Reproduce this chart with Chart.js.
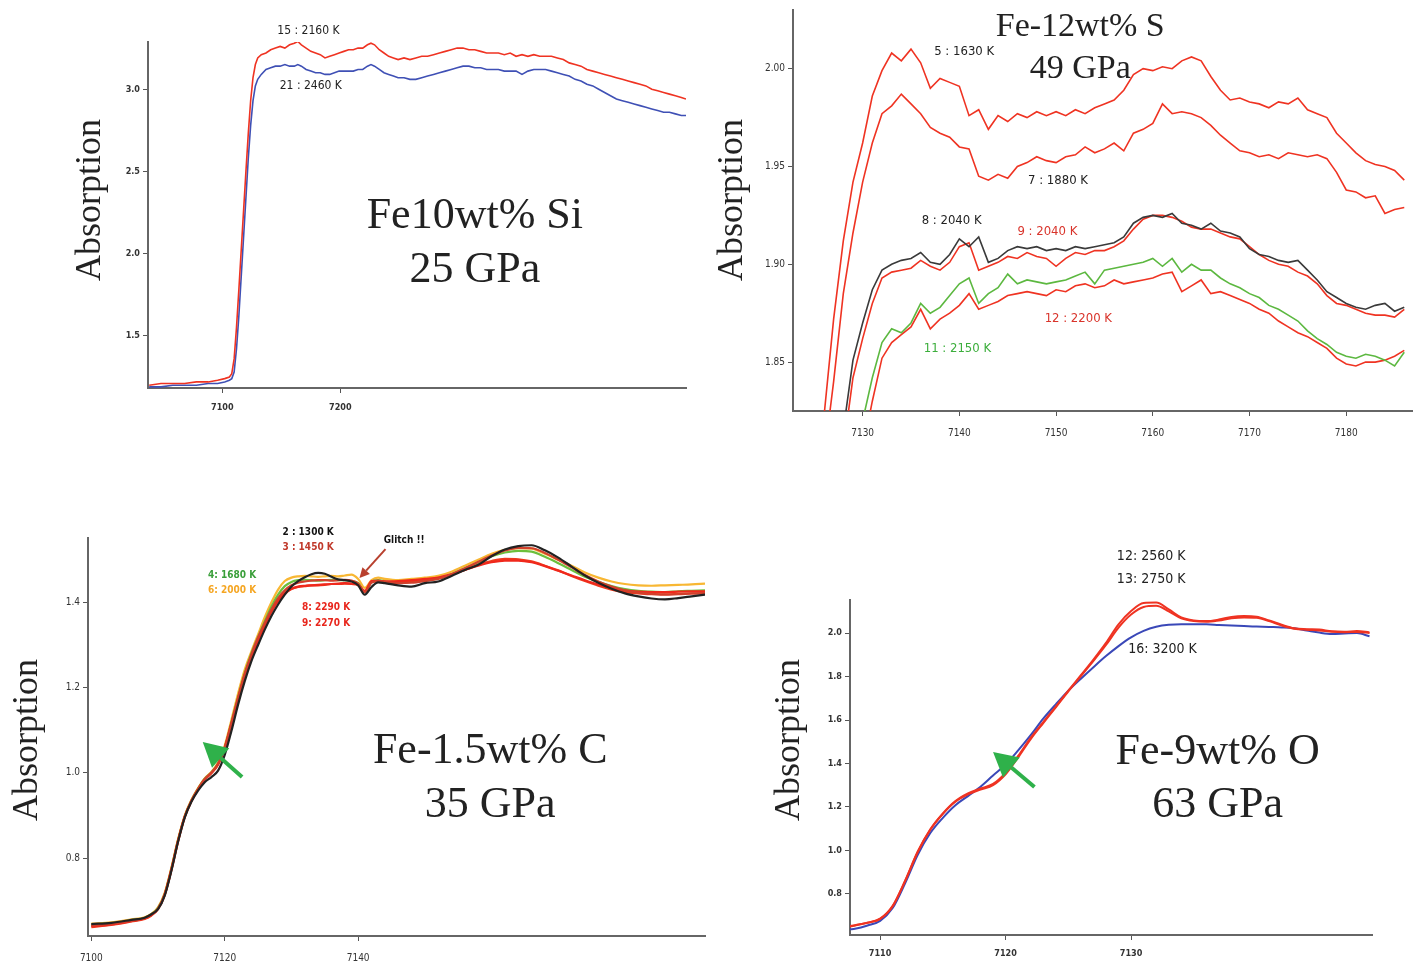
<!DOCTYPE html>
<html>
<head>
<meta charset="utf-8">
<script src="https://cdn.jsdelivr.net/npm/chart.js@4.4.1/dist/chart.umd.min.js"></script>
<style>
html, body { margin: 0; padding: 0; background: #fff; }
body { width: 1419px; height: 965px; position: relative; overflow: hidden; }
.panel { position: absolute; }
</style>
</head>
<body>
<div class="panel" style="left:60px;top:10px;width:640px;height:408px"><canvas id="c1"></canvas></div>
<div class="panel" style="left:715px;top:0px;width:704px;height:446px"><canvas id="c2"></canvas></div>
<div class="panel" style="left:0px;top:515px;width:715px;height:450px"><canvas id="c3"></canvas></div>
<div class="panel" style="left:760px;top:540px;width:659px;height:425px"><canvas id="c4"></canvas></div>
<script>
// ---- Panel 1: Fe10wt% Si, 25 GPa ----
const p1XTicks = [7100, 7200];
const p1YTicks = [1.5, 2.0, 2.5, 3.0];
const p1Energy = [
  7038, 7048, 7058, 7068, 7078, 7088, 7096, 7102, 7106, 7108,
  7110, 7112, 7114, 7116, 7118, 7120, 7122, 7124, 7126, 7128,
  7130, 7133, 7137, 7141, 7145, 7149, 7153, 7157, 7161, 7164,
  7167, 7171, 7175, 7179, 7183, 7187, 7191, 7195, 7199, 7203,
  7207, 7211, 7215, 7219, 7223, 7226, 7229, 7233, 7237, 7241,
  7245, 7249, 7254, 7259, 7264, 7269, 7274, 7279, 7284, 7289,
  7294, 7299, 7304, 7309, 7314, 7319, 7324, 7329, 7334, 7339,
  7344, 7349, 7354, 7359, 7364, 7369, 7374, 7379, 7384, 7389,
  7394, 7399, 7404, 7409, 7414, 7419, 7424, 7429, 7434, 7439,
  7444, 7449, 7454, 7459, 7464, 7469, 7474, 7479, 7484, 7489,
  7493];
const p1Run15 = [
  1.20, 1.21, 1.21, 1.21, 1.22, 1.22, 1.23, 1.24, 1.25, 1.27,
  1.36, 1.55, 1.78, 2.02, 2.26, 2.50, 2.73, 2.93, 3.07, 3.15,
  3.19, 3.21, 3.22, 3.24, 3.25, 3.26, 3.25, 3.27, 3.28, 3.29,
  3.27, 3.25, 3.23, 3.22, 3.21, 3.19, 3.20, 3.21, 3.22, 3.23,
  3.24, 3.24, 3.25, 3.25, 3.27, 3.28, 3.27, 3.24, 3.22, 3.20,
  3.19, 3.18, 3.19, 3.18, 3.19, 3.20, 3.20, 3.21, 3.22, 3.23,
  3.24, 3.25, 3.25, 3.24, 3.24, 3.23, 3.22, 3.22, 3.22, 3.21,
  3.22, 3.20, 3.21, 3.20, 3.21, 3.20, 3.20, 3.20, 3.19, 3.18,
  3.16, 3.15, 3.14, 3.12, 3.11, 3.10, 3.09, 3.08, 3.07, 3.06,
  3.05, 3.04, 3.03, 3.02, 3.00, 2.99, 2.98, 2.97, 2.96, 2.95,
  2.94];
const p1Run21 = [
  1.19, 1.19, 1.20, 1.20, 1.20, 1.21, 1.21, 1.22, 1.23, 1.24,
  1.28, 1.42, 1.62, 1.86, 2.10, 2.34, 2.58, 2.78, 2.93, 3.02,
  3.06, 3.09, 3.12, 3.13, 3.14, 3.14, 3.15, 3.14, 3.14, 3.15,
  3.14, 3.12, 3.11, 3.10, 3.10, 3.09, 3.09, 3.10, 3.11, 3.11,
  3.11, 3.11, 3.12, 3.12, 3.14, 3.15, 3.14, 3.12, 3.10, 3.09,
  3.08, 3.07, 3.07, 3.06, 3.06, 3.07, 3.08, 3.09, 3.10, 3.11,
  3.12, 3.13, 3.14, 3.14, 3.13, 3.13, 3.12, 3.12, 3.12, 3.11,
  3.11, 3.11, 3.09, 3.11, 3.12, 3.12, 3.12, 3.11, 3.10, 3.09,
  3.08, 3.06, 3.05, 3.03, 3.02, 3.00, 2.98, 2.96, 2.94, 2.93,
  2.92, 2.91, 2.90, 2.89, 2.88, 2.87, 2.86, 2.86, 2.85, 2.84,
  2.84];

// ---- Panel 2: Fe-12wt% S, 49 GPa ----
const p2XTicks = [7130, 7140, 7150, 7160, 7170, 7180];
const p2YTicks = [1.85, 1.90, 1.95, 2.00];
const p2Energy = [
  7126, 7127, 7128, 7129, 7130, 7131, 7132, 7133, 7134, 7135,
  7136, 7137, 7138, 7139, 7140, 7141, 7142, 7143, 7144, 7145,
  7146, 7147, 7148, 7149, 7150, 7151, 7152, 7153, 7154, 7155,
  7156, 7157, 7158, 7159, 7160, 7161, 7162, 7163, 7164, 7165,
  7166, 7167, 7168, 7169, 7170, 7171, 7172, 7173, 7174, 7175,
  7176, 7177, 7178, 7179, 7180, 7181, 7182, 7183, 7184, 7185,
  7186];
const p2Run5 = [
  1.822, 1.872, 1.912, 1.942, 1.962, 1.986, 1.999, 2.008, 2.004, 2.010,
  2.003, 1.990, 1.995, 1.993, 1.991, 1.976, 1.979, 1.969, 1.976, 1.973,
  1.977, 1.975, 1.978, 1.976, 1.978, 1.976, 1.979, 1.977, 1.980, 1.982,
  1.984, 1.989, 1.997, 2.000, 1.999, 2.001, 2.000, 2.004, 2.006, 2.004,
  1.996, 1.989, 1.984, 1.985, 1.983, 1.982, 1.980, 1.983, 1.982, 1.985,
  1.979, 1.977, 1.975, 1.967, 1.962, 1.957, 1.953, 1.951, 1.950, 1.948,
  1.943];
const p2Run7 = [
  1.800, 1.840, 1.885, 1.916, 1.942, 1.962, 1.977, 1.981, 1.987, 1.982,
  1.977, 1.970, 1.967, 1.965, 1.960, 1.959, 1.945, 1.943, 1.946, 1.944,
  1.950, 1.952, 1.955, 1.953, 1.952, 1.955, 1.956, 1.960, 1.957, 1.959,
  1.962, 1.958, 1.967, 1.969, 1.972, 1.982, 1.977, 1.978, 1.977, 1.975,
  1.971, 1.966, 1.962, 1.958, 1.957, 1.955, 1.956, 1.954, 1.957, 1.956,
  1.955, 1.956, 1.954, 1.947, 1.938, 1.937, 1.934, 1.935, 1.926, 1.928,
  1.929];
const p2Run8 = [
  1.780, 1.790, 1.815, 1.851, 1.870, 1.887, 1.897, 1.900, 1.902, 1.903,
  1.906, 1.901, 1.900, 1.905, 1.913, 1.909, 1.914, 1.901, 1.903, 1.907,
  1.909, 1.908, 1.909, 1.907, 1.908, 1.907, 1.909, 1.908, 1.909, 1.910,
  1.911, 1.914, 1.921, 1.924, 1.925, 1.924, 1.926, 1.921, 1.920, 1.918,
  1.921, 1.917, 1.916, 1.914, 1.908, 1.905, 1.904, 1.902, 1.901, 1.902,
  1.897, 1.892, 1.886, 1.883, 1.880, 1.878, 1.877, 1.879, 1.880, 1.876,
  1.878];
const p2Run9 = [
  1.780, 1.790, 1.805, 1.842, 1.862, 1.880, 1.893, 1.896, 1.897, 1.898,
  1.902, 1.899, 1.897, 1.901, 1.909, 1.911, 1.897, 1.899, 1.901, 1.904,
  1.903, 1.906, 1.904, 1.903, 1.899, 1.903, 1.906, 1.905, 1.907, 1.907,
  1.909, 1.912, 1.918, 1.923, 1.925, 1.925, 1.924, 1.922, 1.919, 1.918,
  1.918, 1.916, 1.914, 1.913, 1.909, 1.905, 1.902, 1.900, 1.899, 1.896,
  1.894, 1.890, 1.884, 1.880, 1.879, 1.877, 1.875, 1.874, 1.874, 1.873,
  1.877];
const p2Run11 = [
  1.780, 1.780, 1.790, 1.800, 1.820, 1.842, 1.860, 1.867, 1.865, 1.870,
  1.880, 1.875, 1.878, 1.884, 1.890, 1.893, 1.880, 1.885, 1.888, 1.895,
  1.890, 1.892, 1.891, 1.890, 1.891, 1.892, 1.894, 1.896, 1.890, 1.897,
  1.898, 1.899, 1.900, 1.901, 1.903, 1.899, 1.903, 1.896, 1.900, 1.897,
  1.897, 1.893, 1.890, 1.888, 1.885, 1.883, 1.879, 1.877, 1.874, 1.871,
  1.866, 1.862, 1.859, 1.855, 1.853, 1.852, 1.854, 1.853, 1.851, 1.848,
  1.855];
const p2Run12 = [
  1.780, 1.780, 1.780, 1.790, 1.805, 1.830, 1.852, 1.860, 1.864, 1.868,
  1.877, 1.867, 1.872, 1.875, 1.879, 1.885, 1.877, 1.879, 1.881, 1.884,
  1.885, 1.886, 1.885, 1.884, 1.887, 1.886, 1.889, 1.890, 1.888, 1.889,
  1.892, 1.890, 1.891, 1.892, 1.893, 1.895, 1.896, 1.886, 1.889, 1.892,
  1.885, 1.886, 1.884, 1.882, 1.880, 1.877, 1.875, 1.871, 1.868, 1.865,
  1.863, 1.860, 1.857, 1.852, 1.849, 1.848, 1.850, 1.850, 1.851, 1.853,
  1.856];

// ---- Panel 3: Fe-1.5wt% C, 35 GPa ----
const p3XTicks = [7100, 7120, 7140];
const p3YTicks = [0.8, 1.0, 1.2, 1.4];
const p3Energy = [
  7100, 7103, 7106, 7108, 7109, 7110, 7111, 7112, 7113, 7114,
  7115, 7116, 7117, 7118, 7119, 7120, 7121, 7122, 7123, 7124,
  7125, 7126, 7127, 7128, 7129, 7130, 7131, 7132, 7133, 7134,
  7135, 7136, 7137, 7138, 7139, 7140, 7141, 7142, 7143, 7144,
  7146, 7148, 7150, 7152, 7154, 7156, 7158, 7160, 7162, 7164,
  7166, 7168, 7170, 7172, 7174, 7176, 7178, 7180, 7182, 7184,
  7186, 7188, 7190, 7192];
const p3Run2 = [
  0.645, 0.648, 0.655, 0.660, 0.668, 0.680, 0.712, 0.770, 0.838, 0.895,
  0.932, 0.958, 0.978, 0.990, 1.005, 1.042, 1.098, 1.160, 1.215, 1.262,
  1.300, 1.336, 1.368, 1.395, 1.418, 1.437, 1.450, 1.459, 1.466, 1.469,
  1.467, 1.460, 1.454, 1.452, 1.449, 1.440, 1.418, 1.436, 1.447, 1.445,
  1.440, 1.437, 1.445, 1.449, 1.462, 1.476, 1.488, 1.508, 1.524, 1.532,
  1.534, 1.522, 1.505, 1.484, 1.463, 1.446, 1.432, 1.421, 1.414, 1.409,
  1.407, 1.410, 1.414, 1.418];
const p3Run3 = [
  0.642, 0.646, 0.653, 0.659, 0.667, 0.681, 0.714, 0.772, 0.840, 0.897,
  0.934, 0.962, 0.985, 1.000, 1.020, 1.058, 1.115, 1.175, 1.230, 1.278,
  1.318, 1.352, 1.384, 1.410, 1.428, 1.440, 1.446, 1.449, 1.451, 1.452,
  1.452, 1.451, 1.452, 1.453, 1.451, 1.444, 1.424, 1.446, 1.450, 1.448,
  1.445, 1.446, 1.450, 1.455, 1.466, 1.480, 1.495, 1.510, 1.522, 1.528,
  1.527, 1.516, 1.500, 1.482, 1.464, 1.449, 1.437, 1.428, 1.423, 1.420,
  1.418, 1.419, 1.421, 1.422];
const p3Run4 = [
  0.644, 0.647, 0.654, 0.660, 0.668, 0.683, 0.716, 0.775, 0.842, 0.898,
  0.935, 0.963, 0.986, 1.001, 1.022, 1.060, 1.118, 1.178, 1.234, 1.280,
  1.318, 1.355, 1.390, 1.418, 1.438, 1.448, 1.452, 1.453, 1.452, 1.451,
  1.452, 1.453, 1.452, 1.452, 1.450, 1.445, 1.425, 1.448, 1.452, 1.449,
  1.446, 1.448, 1.452, 1.456, 1.466, 1.480, 1.494, 1.508, 1.517, 1.521,
  1.519, 1.507, 1.492, 1.476, 1.460, 1.448, 1.438, 1.431, 1.427, 1.425,
  1.424, 1.426, 1.427, 1.428];
const p3Run6 = [
  0.646, 0.649, 0.656, 0.661, 0.669, 0.684, 0.718, 0.777, 0.844, 0.899,
  0.936, 0.964, 0.987, 1.002, 1.024, 1.064, 1.124, 1.186, 1.242, 1.285,
  1.325, 1.365, 1.400, 1.430, 1.450, 1.458, 1.461, 1.462, 1.461, 1.460,
  1.461, 1.462, 1.461, 1.463, 1.465, 1.455, 1.434, 1.452, 1.458, 1.455,
  1.452, 1.455, 1.458, 1.462, 1.472, 1.486, 1.500, 1.514, 1.523, 1.527,
  1.526, 1.514, 1.500, 1.486, 1.470, 1.458, 1.449, 1.443, 1.440, 1.439,
  1.440, 1.441, 1.442, 1.444];
const p3Run8 = [
  0.640, 0.644, 0.652, 0.658, 0.666, 0.681, 0.715, 0.774, 0.841, 0.897,
  0.934, 0.962, 0.985, 1.000, 1.021, 1.060, 1.117, 1.176, 1.232, 1.275,
  1.312, 1.348, 1.380, 1.405, 1.422, 1.432, 1.437, 1.439, 1.440, 1.441,
  1.442, 1.443, 1.444, 1.445, 1.444, 1.442, 1.427, 1.450, 1.451, 1.449,
  1.450, 1.452, 1.455, 1.458, 1.466, 1.476, 1.486, 1.494, 1.498, 1.498,
  1.494, 1.485, 1.474, 1.463, 1.452, 1.442, 1.434, 1.428, 1.425, 1.424,
  1.424, 1.425, 1.426, 1.426];
const p3Run9 = [
  0.638, 0.643, 0.651, 0.657, 0.665, 0.680, 0.713, 0.772, 0.839, 0.896,
  0.933, 0.961, 0.984, 0.999, 1.019, 1.057, 1.113, 1.172, 1.228, 1.272,
  1.310, 1.346, 1.378, 1.403, 1.420, 1.431, 1.436, 1.438, 1.440, 1.440,
  1.441, 1.443, 1.443, 1.444, 1.443, 1.440, 1.425, 1.447, 1.449, 1.448,
  1.447, 1.450, 1.453, 1.457, 1.465, 1.476, 1.488, 1.497, 1.502, 1.501,
  1.496, 1.486, 1.475, 1.462, 1.450, 1.439, 1.430, 1.424, 1.421, 1.419,
  1.419, 1.420, 1.421, 1.421];

// ---- Panel 4: Fe-9wt% O, 63 GPa ----
const p4XTicks = [7110, 7120, 7130];
const p4YTicks = [0.8, 1.0, 1.2, 1.4, 1.6, 1.8, 2.0];
const p4Energy = [
  7107.6, 7108, 7109, 7110, 7111, 7112, 7113, 7114, 7115, 7116,
  7117, 7118, 7119, 7120, 7121, 7122, 7123, 7124, 7125, 7126,
  7127, 7128, 7129, 7130, 7131, 7132, 7133, 7134, 7135, 7136,
  7137, 7138, 7139, 7140, 7141, 7142, 7143, 7144, 7145, 7146,
  7147, 7148, 7149];
const p4Run12 = [
  0.652, 0.656, 0.668, 0.686, 0.745, 0.862, 0.995, 1.097, 1.170, 1.227,
  1.262, 1.285, 1.306, 1.358, 1.435, 1.518, 1.590, 1.662, 1.735, 1.806,
  1.878, 1.955, 2.040, 2.101, 2.138, 2.140, 2.109, 2.072, 2.058, 2.055,
  2.062, 2.074, 2.078, 2.075, 2.058, 2.038, 2.022, 2.018, 2.016, 2.008,
  2.006, 2.009, 2.003];
const p4Run13 = [
  0.650, 0.655, 0.667, 0.685, 0.743, 0.860, 0.993, 1.095, 1.168, 1.224,
  1.258, 1.280, 1.300, 1.350, 1.428, 1.512, 1.586, 1.658, 1.732, 1.802,
  1.872, 1.945, 2.025, 2.085, 2.120, 2.125, 2.100, 2.068, 2.055, 2.052,
  2.058, 2.068, 2.072, 2.070, 2.055, 2.035, 2.020, 2.015, 2.012, 2.006,
  2.004, 2.005, 2.000];
const p4Run16 = [
  0.637, 0.640, 0.655, 0.676, 0.735, 0.850, 0.980, 1.080, 1.150, 1.208,
  1.250, 1.293, 1.345, 1.395, 1.460, 1.530, 1.606, 1.672, 1.735, 1.790,
  1.843, 1.894, 1.940, 1.980, 2.010, 2.029, 2.038, 2.040, 2.040, 2.040,
  2.037, 2.035, 2.032, 2.030, 2.028, 2.026, 2.022, 2.012, 2.002, 1.996,
  1.998, 2.000, 1.985];

// ---- styling ----
const SERIF = '"Liberation Serif", "Times New Roman", serif';
const NARROW = '"Liberation Sans Narrow", "Arial Narrow", "DejaVu Sans Condensed", sans-serif';
const RED = '#ef3322';

function series(xs, ys) {
    return xs.map((x, i) => ({ x: x, y: ys[i] }));
}

function line(xs, ys, color, width, smooth) {
    return {
        data: series(xs, ys),
        borderColor: color,
        borderWidth: width,
        pointRadius: 0,
        fill: false,
        tension: smooth ? 0.4 : 0,
        cubicInterpolationMode: smooth ? 'monotone' : 'default'
    };
}

// text + arrows drawn in data coordinates
const annotate = {
    id: 'annotate',
    afterDatasetsDraw(chart, args, opts) {
        const ctx = chart.ctx;
        const xs = chart.scales.x, ys = chart.scales.y;
        (opts.arrows || []).forEach(a => {
            const x1 = xs.getPixelForValue(a.from[0]), y1 = ys.getPixelForValue(a.from[1]);
            const x2 = xs.getPixelForValue(a.to[0]), y2 = ys.getPixelForValue(a.to[1]);
            const ang = Math.atan2(y2 - y1, x2 - x1);
            const bx = x2 - a.head * Math.cos(ang), by = y2 - a.head * Math.sin(ang);
            ctx.save();
            ctx.strokeStyle = a.color;
            ctx.fillStyle = a.color;
            ctx.lineWidth = a.width;
            ctx.beginPath();
            ctx.moveTo(x1, y1);
            ctx.lineTo(bx, by);
            ctx.stroke();
            ctx.beginPath();
            ctx.moveTo(x2, y2);
            ctx.lineTo(bx + a.spread * Math.sin(ang), by - a.spread * Math.cos(ang));
            ctx.lineTo(bx - a.spread * Math.sin(ang), by + a.spread * Math.cos(ang));
            ctx.closePath();
            ctx.fill();
            ctx.restore();
        });
        (opts.texts || []).forEach(t => {
            const px = xs.getPixelForValue(t.at[0]), py = ys.getPixelForValue(t.at[1]);
            ctx.save();
            ctx.font = t.font;
            ctx.fillStyle = t.color || '#222';
            ctx.textAlign = 'center';
            ctx.textBaseline = 'middle';
            ctx.translate(px, py);
            if (t.rotate) ctx.rotate(-Math.PI / 2);
            ctx.fillText(t.text, 0, 0);
            ctx.restore();
        });
    }
};

function makePanel(id, p) {
    const tickFont = p.tickFont;
    new Chart(document.getElementById(id), {
        type: 'line',
        data: { datasets: p.datasets },
        options: {
            responsive: true,
            maintainAspectRatio: false,
            animation: false,
            events: [],
            layout: { padding: { top: p.padTop, right: p.padRight, left: 0, bottom: 0 } },
            plugins: {
                legend: { display: false },
                tooltip: { enabled: false },
                annotate: { texts: p.texts, arrows: p.arrows || [] }
            },
            scales: {
                x: {
                    type: 'linear',
                    min: p.xMin, max: p.xMax,
                    afterBuildTicks: s => { s.ticks = p.xTicks.map(v => ({ value: v })); },
                    afterFit: s => { s.height = p.xHeight; },
                    grid: { drawOnChartArea: false, drawTicks: true, tickLength: 5, color: '#555' },
                    border: { display: true, color: '#666', width: 2 },
                    ticks: { font: tickFont, color: '#333', padding: p.xPad, maxRotation: 0, autoSkip: false,
                             callback: v => String(v) }
                },
                y: {
                    type: 'linear',
                    min: p.yMin, max: p.yMax,
                    afterBuildTicks: s => { s.ticks = p.yTicks.map(v => ({ value: v })); },
                    afterFit: s => { s.width = p.yWidth; },
                    grid: { drawOnChartArea: false, drawTicks: true, tickLength: 5, color: '#555' },
                    border: { display: true, color: '#666', width: 2 },
                    ticks: { font: tickFont, color: '#333', padding: 3, autoSkip: false,
                             callback: v => v.toFixed(p.yDigits) }
                }
            }
        },
        plugins: [annotate]
    });
}

makePanel('c1', {
    xMin: 7037, xMax: 7493, yMin: 1.183, yMax: 3.287,
    xTicks: p1XTicks, yTicks: p1YTicks, yDigits: 1,
    yWidth: 88, xHeight: 30, padTop: 32, padRight: 14, xPad: 9,
    tickFont: { family: NARROW, size: 9, weight: 'bold' },
    datasets: [
        line(p1Energy, p1Run15, RED, 1.6, false),
        line(p1Energy, p1Run21, '#3f50b5', 1.6, false)
    ],
    texts: [
        { text: '15 : 2160 K', at: [7173, 3.354], font: '12px ' + NARROW },
        { text: '21 : 2460 K', at: [7175, 3.019], font: '12px ' + NARROW },
        { text: 'Fe10wt% Si', at: [7314, 2.229], font: '44px ' + SERIF },
        { text: '25 GPa', at: [7314, 1.900], font: '44px ' + SERIF },
        { text: 'Absorption', at: [6988, 2.326], font: '36px ' + SERIF, rotate: true }
    ]
});

makePanel('c2', {
    xMin: 7122.8, xMax: 7186.8, yMin: 1.825, yMax: 2.030,
    xTicks: p2XTicks, yTicks: p2YTicks, yDigits: 2,
    yWidth: 78, xHeight: 35, padTop: 10, padRight: 7, xPad: 11,
    tickFont: { family: NARROW, size: 10, weight: 'normal' },
    datasets: [
        line(p2Energy, p2Run5, RED, 1.6, false),
        line(p2Energy, p2Run7, RED, 1.6, false),
        line(p2Energy, p2Run8, '#3a3a3a', 1.6, false),
        line(p2Energy, p2Run9, RED, 1.6, false),
        line(p2Energy, p2Run11, '#5cb840', 1.6, false),
        line(p2Energy, p2Run12, RED, 1.6, false)
    ],
    texts: [
        { text: 'Fe-12wt% S', at: [7152.5, 2.0213], font: '34px ' + SERIF },
        { text: '49 GPa', at: [7152.5, 1.9998], font: '34px ' + SERIF },
        { text: '5 : 1630 K', at: [7140.5, 2.0085], font: '13px ' + NARROW },
        { text: '7 : 1880 K', at: [7150.2, 1.9426], font: '13px ' + NARROW },
        { text: '8 : 2040 K', at: [7139.2, 1.9221], font: '13px ' + NARROW },
        { text: '9 : 2040 K', at: [7149.1, 1.9169], font: '13px ' + NARROW, color: '#d9342b' },
        { text: '12 : 2200 K', at: [7152.3, 1.8720], font: '13px ' + NARROW, color: '#d9342b' },
        { text: '11 : 2150 K', at: [7139.8, 1.8567], font: '13px ' + NARROW, color: '#3cae3c' },
        { text: 'Absorption', at: [7116.6, 1.9329], font: '36px ' + SERIF, rotate: true }
    ]
});

makePanel('c3', {
    xMin: 7099.5, xMax: 7192, yMin: 0.617, yMax: 1.551,
    xTicks: p3XTicks, yTicks: p3YTicks, yDigits: 1,
    yWidth: 88, xHeight: 29, padTop: 23, padRight: 10, xPad: 11,
    tickFont: { family: NARROW, size: 10, weight: 'normal' },
    datasets: [
        line(p3Energy, p3Run2, '#222222', 2.2, true),
        line(p3Energy, p3Run3, '#d2402c', 2.2, true),
        line(p3Energy, p3Run8, '#f0281c', 2.2, true),
        line(p3Energy, p3Run9, '#ee3a1e', 2.2, true),
        line(p3Energy, p3Run4, '#6cbf3c', 2.2, true),
        line(p3Energy, p3Run6, '#f8b733', 2.2, true)
    ],
    arrows: [
        { from: [7122.6, 0.990], to: [7116.7, 1.072], color: '#2fb14a', width: 4, head: 24, spread: 13 },
        { from: [7144.1, 1.525], to: [7140.2, 1.457], color: '#b8402e', width: 2, head: 10, spread: 5 }
    ],
    texts: [
        { text: '2 : 1300 K', at: [7132.5, 1.565], font: 'bold 10px ' + NARROW, color: '#111' },
        { text: '3 : 1450 K', at: [7132.5, 1.530], font: 'bold 10px ' + NARROW, color: '#c0392b' },
        { text: '4: 1680 K', at: [7121.1, 1.464], font: 'bold 10px ' + NARROW, color: '#3a9f3a' },
        { text: '6: 2000 K', at: [7121.1, 1.427], font: 'bold 10px ' + NARROW, color: '#f5a623' },
        { text: '8: 2290 K', at: [7135.2, 1.389], font: 'bold 10px ' + NARROW, color: '#e8261c' },
        { text: '9: 2270 K', at: [7135.2, 1.351], font: 'bold 10px ' + NARROW, color: '#e8261c' },
        { text: 'Glitch !!', at: [7146.9, 1.546], font: 'bold 10px ' + NARROW, color: '#111' },
        { text: 'Fe-1.5wt% C', at: [7159.8, 1.049], font: '44px ' + SERIF },
        { text: '35 GPa', at: [7159.8, 0.924], font: '44px ' + SERIF },
        { text: 'Absorption', at: [7090.5, 1.077], font: '36px ' + SERIF, rotate: true }
    ]
});

makePanel('c4', {
    xMin: 7107.6, xMax: 7149.2, yMin: 0.611, yMax: 2.152,
    xTicks: p4XTicks, yTicks: p4YTicks, yDigits: 1,
    yWidth: 90, xHeight: 30, padTop: 60, padRight: 47, xPad: 8,
    tickFont: { family: NARROW, size: 9, weight: 'bold' },
    datasets: [
        line(p4Energy, p4Run12, RED, 2, true),
        line(p4Energy, p4Run13, RED, 2, true),
        line(p4Energy, p4Run16, '#3a48b8', 2, true)
    ],
    arrows: [
        { from: [7122.3, 1.292], to: [7119.0, 1.453], color: '#2fb14a', width: 4, head: 24, spread: 13 }
    ],
    texts: [
        { text: '12: 2560 K', at: [7131.6, 2.354], font: '14px ' + NARROW },
        { text: '13: 2750 K', at: [7131.6, 2.249], font: '14px ' + NARROW },
        { text: '16: 3200 K', at: [7132.5, 1.927], font: '14px ' + NARROW },
        { text: 'Fe-9wt% O', at: [7136.9, 1.453], font: '44px ' + SERIF },
        { text: '63 GPa', at: [7136.9, 1.209], font: '44px ' + SERIF },
        { text: 'Absorption', at: [7102.8, 1.508], font: '36px ' + SERIF, rotate: true }
    ]
});
</script>
</body>
</html>
